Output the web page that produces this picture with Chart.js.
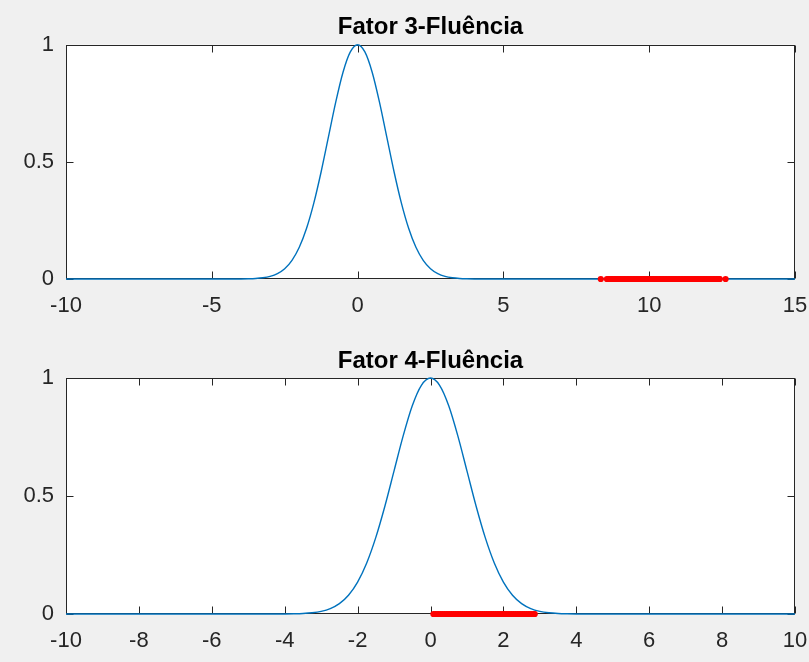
<!DOCTYPE html>
<html><head><meta charset="utf-8">
<script src="https://cdn.jsdelivr.net/npm/chart.js@4"></script>
<style>
html,body{margin:0;padding:0;background:#f0f0f0;width:809px;height:662px;overflow:hidden}
canvas{position:absolute;left:0}
#c1{top:0}
#c2{top:331px}
</style></head><body>
<canvas id="c1" width="809" height="331"></canvas>
<canvas id="c2" width="809" height="331"></canvas>
<script>
const title3 = 'Fator 3-Fluência';
const title4 = 'Fator 4-Fluência';

const curveX3 = [-10, -4, -3.75, -3.5, -3.25, -3, -2.75, -2.5, -2.25, -2, -1.75, -1.5, -1.25, -1, -0.75, -0.5, -0.25, 0,
  0.25, 0.5, 0.75, 1, 1.25, 1.5, 1.75, 2, 2.25, 2.5, 2.75, 3, 3.25, 3.5, 3.75, 4, 15];
const curveY3 = [0, 0.0003, 0.0009, 0.0022, 0.0051, 0.0111, 0.0228, 0.0439, 0.0796, 0.1353, 0.2163, 0.3247, 0.4578, 0.6065, 0.7548, 0.8825, 0.9692, 1,
  0.9692, 0.8825, 0.7548, 0.6065, 0.4578, 0.3247, 0.2163, 0.1353, 0.0796, 0.0439, 0.0228, 0.0111, 0.0051, 0.0022, 0.0009, 0.0003, 0];

const curveX4 = [-10, -4, -3.75, -3.5, -3.25, -3, -2.75, -2.5, -2.25, -2, -1.75, -1.5, -1.25, -1, -0.75, -0.5, -0.25, 0,
  0.25, 0.5, 0.75, 1, 1.25, 1.5, 1.75, 2, 2.25, 2.5, 2.75, 3, 3.25, 3.5, 3.75, 4, 10];
const curveY4 = [0, 0.0003, 0.0009, 0.0022, 0.0051, 0.0111, 0.0228, 0.0439, 0.0796, 0.1353, 0.2163, 0.3247, 0.4578, 0.6065, 0.7548, 0.8825, 0.9692, 1,
  0.9692, 0.8825, 0.7548, 0.6065, 0.4578, 0.3247, 0.2163, 0.1353, 0.0796, 0.0439, 0.0228, 0.0111, 0.0051, 0.0022, 0.0009, 0.0003, 0];

const redX3 = [8.34, 8.55, 8.6, 8.65, 8.7, 8.75, 8.8, 8.85, 8.9, 8.95, 9, 9.05, 9.1, 9.15, 9.2, 9.25, 9.3, 9.35, 9.4, 9.45,
  9.5, 9.55, 9.6, 9.65, 9.7, 9.75, 9.8, 9.85, 9.9, 9.95, 10, 10.05, 10.1, 10.15, 10.2, 10.25, 10.3, 10.35, 10.4, 10.45,
  10.5, 10.55, 10.6, 10.65, 10.7, 10.75, 10.8, 10.85, 10.9, 10.95, 11, 11.05, 11.1, 11.15, 11.2, 11.25, 11.3, 11.35, 11.4, 11.45,
  11.5, 11.55, 11.6, 11.65, 11.7, 11.75, 11.8, 11.85, 11.9, 11.95, 12, 12.05, 12.1, 12.15, 12.2, 12.25, 12.3, 12.35, 12.4, 12.42, 12.62];
const redY3 = redX3.map(() => 0);

const redX4 = [0.08, 0.13, 0.18, 0.23, 0.28, 0.33, 0.38, 0.43, 0.48, 0.53, 0.58, 0.63, 0.68, 0.73, 0.78, 0.83, 0.88, 0.93, 0.98,
  1.03, 1.08, 1.13, 1.18, 1.23, 1.28, 1.33, 1.38, 1.43, 1.48, 1.53, 1.58, 1.63, 1.68, 1.73, 1.78, 1.83, 1.88, 1.93, 1.98,
  2.03, 2.08, 2.13, 2.18, 2.23, 2.28, 2.33, 2.38, 2.43, 2.48, 2.53, 2.58, 2.63, 2.68, 2.73, 2.78, 2.83, 2.86];
const redY4 = redX4.map(() => 0);

const xTicks3 = [-10, -5, 0, 5, 10, 15];
const xTicks4 = [-10, -8, -6, -4, -2, 0, 2, 4, 6, 8, 10];
const yTicks = [0, 0.5, 1];

const FONT = '"Liberation Sans", Arial, Helvetica, sans-serif';
const AX = '#262626';

const boxPlugin = {
  id: 'matlabBox',
  beforeDraw(chart) {
    const {ctx, chartArea: a} = chart;
    ctx.save();
    ctx.fillStyle = '#ffffff';
    ctx.fillRect(a.left, a.top, a.right - a.left, a.bottom - a.top);
    ctx.restore();
  },
  beforeDatasetsDraw(chart) {
    const {ctx, chartArea: a, scales} = chart;
    ctx.save();
    ctx.strokeStyle = AX;
    ctx.lineWidth = 1;
    const L = Math.round(a.left) + 0.5, R = Math.round(a.right) - 0.5;
    const T = Math.round(a.top) + 0.5, B = Math.round(a.bottom) - 0.5;
    ctx.strokeRect(L, T, R - L, B - T);
    const tl = 7;
    ctx.beginPath();
    scales.x.ticks.forEach(t => {
      const px = Math.round(scales.x.getPixelForValue(t.value)) + 0.5;
      ctx.moveTo(px, B); ctx.lineTo(px, B - tl);
      ctx.moveTo(px, T); ctx.lineTo(px, T + tl);
    });
    scales.y.ticks.forEach(t => {
      const py = Math.round(scales.y.getPixelForValue(t.value)) + 0.5;
      ctx.moveTo(L, py); ctx.lineTo(L + tl, py);
      ctx.moveTo(R, py); ctx.lineTo(R - tl, py);
    });
    ctx.stroke();
    ctx.restore();
  }
};

function makeChart(id, title, cx, cy, rx, ry, xmin, xmax, xTicks, titlePadTop, xAxisHeight) {
  return new Chart(document.getElementById(id), {
    type: 'scatter',
    data: {
      datasets: [
        {
          data: rx.map((x, i) => ({x, y: ry[i]})),
          showLine: false,
          pointRadius: 3.1,
          pointBackgroundColor: '#ff0000',
          pointBorderWidth: 0,
          pointBorderColor: '#ff0000',
          clip: false
        },
        {
          data: cx.map((x, i) => ({x, y: cy[i]})),
          showLine: true,
          borderColor: '#0072BD',
          borderWidth: 1.4,
          pointRadius: 0,
          cubicInterpolationMode: 'monotone',
          clip: false
        }
      ]
    },
    options: {
      responsive: false,
      devicePixelRatio: 1,
      animation: false,
      layout: {padding: {left: 0, right: 14, top: 0, bottom: 0}},
      plugins: {
        legend: {display: false},
        tooltip: {enabled: false},
        title: {
          display: true,
          text: title,
          fullSize: false,
          color: '#000000',
          font: {family: FONT, size: 24, weight: 'bold'},
          padding: {top: titlePadTop, bottom: 2.6}
        }
      },
      scales: {
        x: {
          type: 'linear',
          min: xmin, max: xmax,
          grid: {display: false, drawTicks: true, tickLength: 14},
          border: {display: false},
          afterBuildTicks: s => { s.ticks = xTicks.map(v => ({value: v})); },
          afterFit: s => { s.height = xAxisHeight; },
          ticks: {
            color: AX, padding: 0, maxRotation: 0, autoSkip: false,
            font: {family: FONT, size: 22},
            callback: v => String(v)
          }
        },
        y: {
          type: 'linear',
          min: 0, max: 1,
          grid: {display: false, drawTicks: false},
          border: {display: false},
          afterBuildTicks: s => { s.ticks = yTicks.map(v => ({value: v})); },
          afterFit: s => { s.width = 66; },
          ticks: {
            color: AX, padding: 12,
            font: {family: FONT, size: 22},
            callback: v => String(v)
          }
        }
      }
    },
    plugins: [boxPlugin]
  });
}

makeChart('c1', title3, curveX3, curveY3, redX3, redY3, -10, 15, xTicks3, 13.3, 52);
makeChart('c2', title4, curveX4, curveY4, redX4, redY4, -10, 10, xTicks4, 15.6, 48);
</script>
</body></html>
